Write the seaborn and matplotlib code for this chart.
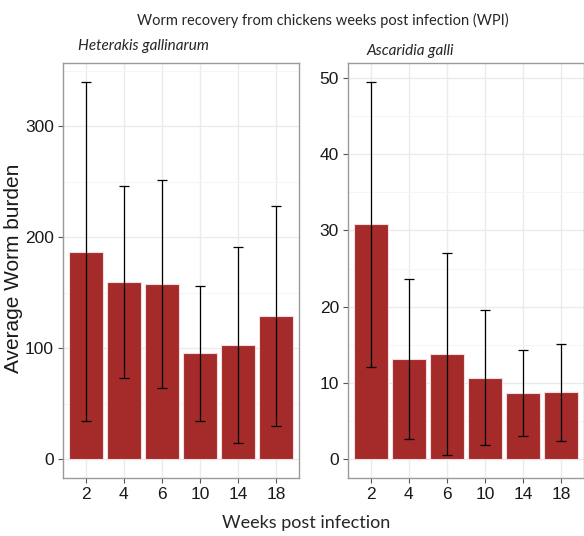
import matplotlib
matplotlib.use("Agg")
import matplotlib.pyplot as plt
import seaborn as sns
import pandas as pd
import numpy as np
from matplotlib.ticker import MultipleLocator

weeks = ["2", "4", "6", "10", "14", "18"]
het_mean = [187, 160, 158, 95.5, 103, 129]
het_sd = [153, 86.5, 93.7, 60.8, 88.5, 99.3]
asc_mean = [30.8, 13.1, 13.8, 10.7, 8.7, 8.75]
asc_sd = [18.7, 10.5, 13.2, 8.9, 5.6, 6.35]

sns.set_theme(style="whitegrid")
plt.rcParams['font.family'] = ['Liberation Sans', 'DejaVu Sans']

fig = plt.figure(figsize=(5.84, 5.36), dpi=100)
ax1 = fig.add_axes([63/584, 1-478/536, 236/584, 415/536])
ax2 = fig.add_axes([348/584, 1-478/536, 236/584, 415/536])

bar_col = "#A52A2A"
panels = [
    (ax1, het_mean, het_sd, "Heterakis gallinarum", 100, 50, 78, 46),
    (ax2, asc_mean, asc_sd, "Ascaridia galli", 10, 5, 367, 51),
]
for ax, m, s, title, major, minor, tx, ty in panels:
    df = pd.DataFrame({"week": weeks, "mean": m})
    sns.barplot(data=df, x="week", y="mean", ax=ax, color=bar_col,
                saturation=1, width=0.9, errorbar=None,
                edgecolor="#f2dede", linewidth=0.8, zorder=2)
    xs = np.arange(len(weeks))
    hi = np.array(m) + np.array(s)
    ax.errorbar(xs, m, yerr=s, fmt="none", ecolor="black", elinewidth=0.9,
                capsize=3.5, capthick=0.9, zorder=3)
    top = hi.max()
    ax.set_ylim(-0.05 * top, top * 1.05)
    ax.set_xlim(-0.6, len(weeks) - 0.4)
    ax.yaxis.set_major_locator(MultipleLocator(major))
    ax.yaxis.set_minor_locator(MultipleLocator(minor))
    ax.grid(True, which="major", color="#ebebeb", linewidth=1.0, zorder=0)
    ax.grid(True, which="minor", axis="y", color="#f4f4f4", linewidth=0.6, zorder=0)
    ax.set_axisbelow(True)
    for sp in ax.spines.values():
        sp.set_visible(True)
        sp.set_color("#9a9a9a")
        sp.set_linewidth(1.0)
    ax.tick_params(axis="both", which="major", length=3.5, width=0.8,
                   color="#555555", labelsize=12.5, labelcolor="#1a1a1a",
                   bottom=True, left=True, pad=3)
    ax.tick_params(axis="both", which="minor", length=0)
    ax.set_xlabel("")
    ax.set_ylabel("")
    fig.text(tx/584, 1 - ty/536, title, fontsize=11, style="italic",
             family=["Lato", "DejaVu Sans"], ha="left", va="center")

ax1.set_ylabel("Average Worm burden", fontsize=15, color="#1a1a1a")
ax1.yaxis.set_label_coords(23/584, 0.5, transform=fig.transFigure)
fig.text(323/584, 1 - 20/536, "Worm recovery from chickens weeks post infection (WPI)",
         fontsize=10.5, family=["Lato", "DejaVu Sans"], ha="center", va="center")
fig.text(306/584, 1 - 523/536, "Weeks post infection", fontsize=13,
         family=["Lato", "DejaVu Sans"], ha="center", va="center")

fig.savefig("out.png", dpi=100)
